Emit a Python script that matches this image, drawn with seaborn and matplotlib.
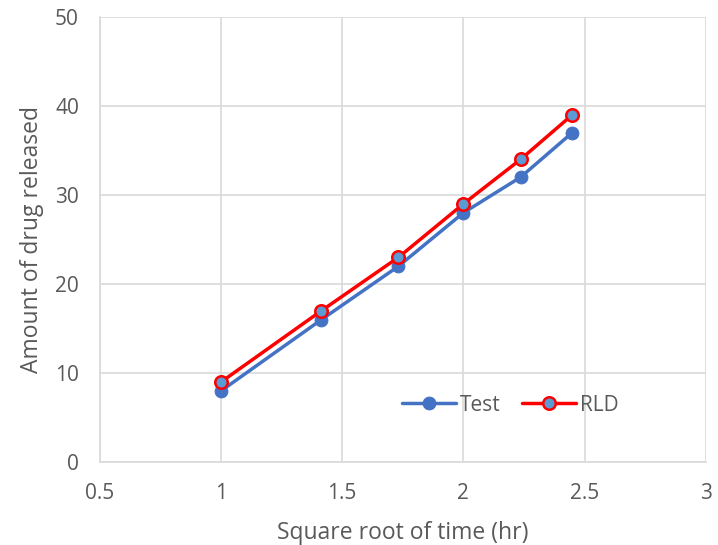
import matplotlib
matplotlib.use("Agg")
import matplotlib.pyplot as plt
import seaborn as sns
import pandas as pd
import numpy as np

sqrt_time = [1.0, 1.414, 1.732, 2.0, 2.236, 2.449]
test_vals = [8, 16, 22, 28, 32, 37]
rld_vals = [9, 17, 23, 29, 34, 39]
x_ticks = [0.5, 1, 1.5, 2, 2.5, 3]
x_labels = ["0.5", "1", "1.5", "2", "2.5", "3"]
y_ticks = [0, 10, 20, 30, 40, 50]

sns.set_style("white")
plt.rcParams['font.family'] = ['Open Sans', 'DejaVu Sans']

df = pd.DataFrame({
    "x": sqrt_time * 2,
    "y": test_vals + rld_vals,
    "series": ["Test"] * len(sqrt_time) + ["RLD"] * len(sqrt_time),
})

fig = plt.figure(figsize=(7.18, 5.45), dpi=100)
ax = fig.add_axes([0.139, 0.152, 0.844, 0.817])

sns.lineplot(data=df[df.series == "Test"], x="x", y="y", ax=ax, color="#4472C4",
             lw=2.5, marker="o", markersize=9.2, markerfacecolor="#4472C4",
             markeredgecolor="#4472C4", label="Test", zorder=3)
sns.lineplot(data=df[df.series == "RLD"], x="x", y="y", ax=ax, color="#FF0000",
             lw=2.5, marker="o", markersize=9, markerfacecolor="#5B9BD5",
             markeredgecolor="#FF0000", markeredgewidth=1.8, label="RLD", zorder=4)

ax.set_xlim(0.5, 3)
ax.set_ylim(0, 50)
ax.set_xticks(x_ticks)
ax.set_xticklabels(x_labels)
ax.set_yticks(y_ticks)
ax.grid(True, color="#D9D9D9", lw=1.2)
ax.set_axisbelow(True)
for s in ["top", "right"]:
    ax.spines[s].set_visible(False)
for s in ["left", "bottom"]:
    ax.spines[s].set_color("#D9D9D9")
    ax.spines[s].set_linewidth(1.2)
ax.tick_params(axis="both", length=0, labelsize=15, colors="#595959")
ax.tick_params(axis="x", pad=15)
ax.tick_params(axis="y", pad=15)
ax.set_xlabel("Square root of time (hr)", fontsize=16.5, color="#595959", labelpad=12)
ax.set_ylabel("Amount of drug released", fontsize=16.5, color="#595959", labelpad=8)

leg = ax.legend(loc="center", bbox_to_anchor=(0.677, 0.128), ncol=2, frameon=False,
                fontsize=15, handlelength=2.6, columnspacing=1.0, handletextpad=0.2)
for t in leg.get_texts():
    t.set_color("#595959")

fig.savefig("out.png", dpi=100)
